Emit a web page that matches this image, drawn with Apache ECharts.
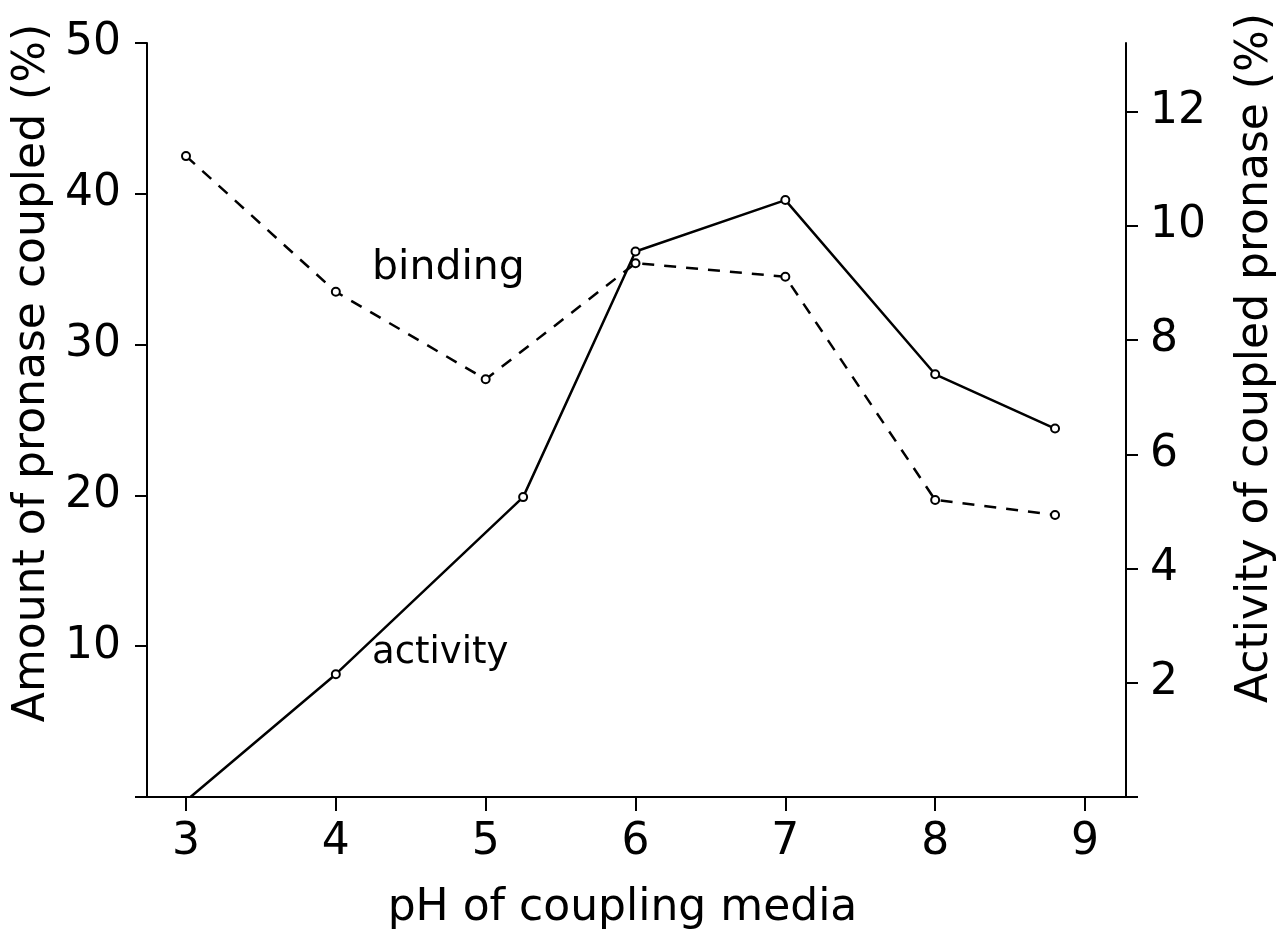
<!DOCTYPE html>
<html>
<head>
<meta charset="utf-8">
<script src="https://cdn.jsdelivr.net/npm/echarts@6/dist/echarts.min.js"></script>
<style>
  html, body { margin: 0; padding: 0; background: #fff; }
  #main { width: 1286px; height: 950px; }
</style>
</head>
<body>
<div id="main"></div>
<script>
// pH of coupling media (axis runs 3..9, y axes pushed out a bit like the original frame)
var phMin = 3
var phMax = 9

// binding: amount of pronase coupled (%), left axis
var bindingPH = [3, 4, 5, 6, 7, 8, 8.8]
var bindingVal = [42.5, 33.5, 27.7, 35.4, 34.5, 19.7, 18.7]

// activity of coupled pronase (%), right axis
var activityPH = [3.03, 4, 5.25, 6, 7, 8, 8.8]
var activityVal = [0, 2.15, 5.25, 9.55, 10.45, 7.4, 6.45]

var font = 'DejaVu Sans'

function pairs(xs, ys) {
  return xs.map(function (x, i) { return [x, ys[i]] })
}

var activityData = pairs(activityPH, activityVal)
activityData[0] = { value: activityData[0], symbol: 'none' }

var myChart = echarts.init(document.getElementById('main'))

var axisLine = { show: true, lineStyle: { color: '#000', width: 2 } }

myChart.setOption({
  backgroundColor: '#fff',
  animation: false,
  grid: { left: 186, right: 195, top: 43, bottom: 153, containLabel: false },
  xAxis: {
    type: 'value',
    min: phMin,
    max: phMax,
    interval: 1,
    name: 'pH of coupling media',
    nameLocation: 'middle',
    nameGap: 90,
    nameTextStyle: { fontFamily: font, fontSize: 44, color: '#000', padding: [0, 26, 0, 0] },
    axisLine: { show: true, onZero: false, lineStyle: { color: '#000', width: 2 } },
    splitLine: { show: false },
    axisTick: { show: true, length: 14, lineStyle: { color: '#000', width: 2 } },
    axisLabel: {
      fontFamily: font, fontSize: 44, color: '#000', margin: 24,
      formatter: function (v) { return String(v) }
    }
  },
  yAxis: [
    {
      type: 'value',
      position: 'left',
      offset: 39,
      min: 0,
      max: 50,
      interval: 10,
      name: 'Amount of pronase coupled (%)',
      nameLocation: 'middle',
      nameGap: 92,
      nameTextStyle: { fontFamily: font, fontSize: 44, color: '#000', padding: [0, 0, 0, 94] },
      axisLine: axisLine,
      splitLine: { show: false },
      axisTick: { show: true, length: 12, lineStyle: { color: '#000', width: 2 } },
      axisLabel: {
        fontFamily: font, fontSize: 44, color: '#000', margin: 26,
        formatter: function (v) { return v === 0 ? '' : v }
      }
    },
    {
      type: 'value',
      position: 'right',
      offset: 41,
      min: 0,
      max: 13.2,
      interval: 2,
      name: 'Activity of coupled pronase (%)',
      nameLocation: 'middle',
      nameGap: 108,
      nameTextStyle: { fontFamily: font, fontSize: 44, color: '#000', padding: [0, 0, 0, 124] },
      axisLine: axisLine,
      splitLine: { show: false },
      axisTick: { show: true, length: 12, lineStyle: { color: '#000', width: 2 } },
      axisLabel: {
        fontFamily: font, fontSize: 44, color: '#000', margin: 24, showMaxLabel: false,
        formatter: function (v) { return v === 0 ? '' : v }
      }
    }
  ],
  series: [
    {
      name: 'binding',
      type: 'line',
      yAxisIndex: 0,
      data: pairs(bindingPH, bindingVal),
      symbol: 'circle',
      symbolSize: 8,
      itemStyle: { color: '#fff', borderColor: '#000', borderWidth: 2 },
      lineStyle: { color: '#000', width: 2.5, type: [12, 10] }
    },
    {
      name: 'activity',
      type: 'line',
      yAxisIndex: 1,
      data: activityData,
      symbol: 'circle',
      symbolSize: 8,
      itemStyle: { color: '#fff', borderColor: '#000', borderWidth: 2 },
      lineStyle: { color: '#000', width: 2.5 }
    }
  ],
  graphic: [
    // bottom frame line, runs across to both offset y axes
    { type: 'line', shape: { x1: 146, y1: 797, x2: 1133, y2: 797 }, style: { stroke: '#000', lineWidth: 2 } },
    { type: 'text', left: 372, top: 248, style: { text: 'binding', fontFamily: font, fontSize: 41, fill: '#000' } },
    { type: 'text', left: 372, top: 635, style: { text: 'activity', fontFamily: font, fontSize: 37, fill: '#000' } }
  ]
})
</script>
</body>
</html>
